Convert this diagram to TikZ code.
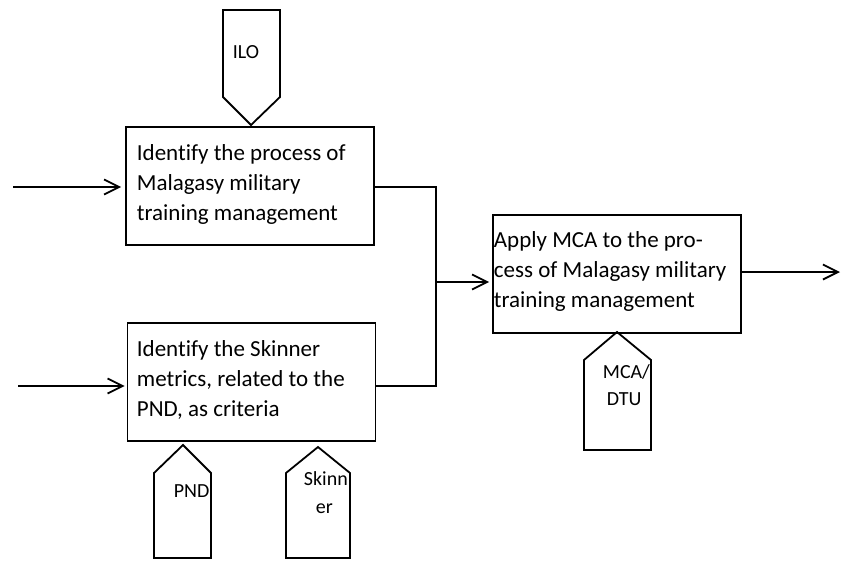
\documentclass[tikz,border=0pt]{standalone}
\usepackage{fontspec}
\setmainfont[Ligatures=CommonOff]{Carlito}
\usetikzlibrary{arrows.meta,calc}
\newcommand\txtlines[1]{\vtop{\hsize=245pt\parindent=0pt\raggedright\baselineskip=30pt #1}}
\begin{document}
\begin{tikzpicture}[x=1pt,y=-1pt,line width=1.8pt,
  box/.style={draw, minimum width=248pt, minimum height=118pt, inner sep=0pt},
  flow/.style={-{Straight Barb[length=15pt,width=15pt,line width=1.8pt]}},
  tag/.style={draw, line join=miter},
  boxtext/.style={anchor=base west, inner sep=0pt, font=\fontsize{23}{30}\selectfont},
  tagtext/.style={anchor=base west, inner sep=0pt, font=\fontsize{20}{27}\selectfont}]
\useasboundingbox (0,0) rectangle (841,560);

% boxes
\node[box] (b1) at (250,186) {};
\node[box] (b2) at (251.5,382) {};
\node[box] (b3) at (617,274) {};

\node[boxtext] (t1) at (136,160) {\txtlines{Identify the process of\\Malagasy military\\training management}};
\node[boxtext] (t2) at (136,356) {\txtlines{Identify the Skinner\\metrics, related to the\\PND, as criteria}};
\node[boxtext] (t3) at (493,247) {\txtlines{Apply MCA to the pro-\\cess of Malagasy military\\training management}};

% tags
\draw[tag] (223,10) -- (280,10) -- (280,97) -- (251,125) -- (223,97) -- cycle;
\node[tagtext] (ilo) at (232,58) {ILO};

\draw[tag] (183,445) -- (211,473) -- (211,558) -- (154,558) -- (154,473) -- cycle;
\node[tagtext] (pnd) at (173,497) {PND};

\draw[tag] (318,447) -- (350,473) -- (350,558) -- (286,558) -- (286,473) -- cycle;
\node[tagtext] (sk1) at (303,485) {Skinn};
\node[tagtext] (sk2) at (315,513) {er};

\draw[tag] (617,332) -- (651,360) -- (651,450) -- (584,450) -- (584,360) -- cycle;
\node[tagtext] (mca1) at (602,378) {MCA/};
\node[tagtext] (mca2) at (606,405) {DTU};

% connectors
\coordinate (in1) at (13,187);
\coordinate (in2) at (18,386);
\coordinate (j) at (436,282);
\coordinate (out) at (840,272);

\draw[flow] (in1) -- ($(b1.west)+(-4,1)$);
\draw[flow] (in2) -- ($(b2.west)+(-2,4)$);
\draw ($(b1.east)+(0,1)$) -- (436,187) -- (436,386) -- ($(b2.east)+(0,4)$);
\draw[flow] (j) -- ($(b3.west |- j)+(-3,0)$);
\draw[flow] ($(b3.east)+(0,-2)$) -- (out);
\end{tikzpicture}
\end{document}
